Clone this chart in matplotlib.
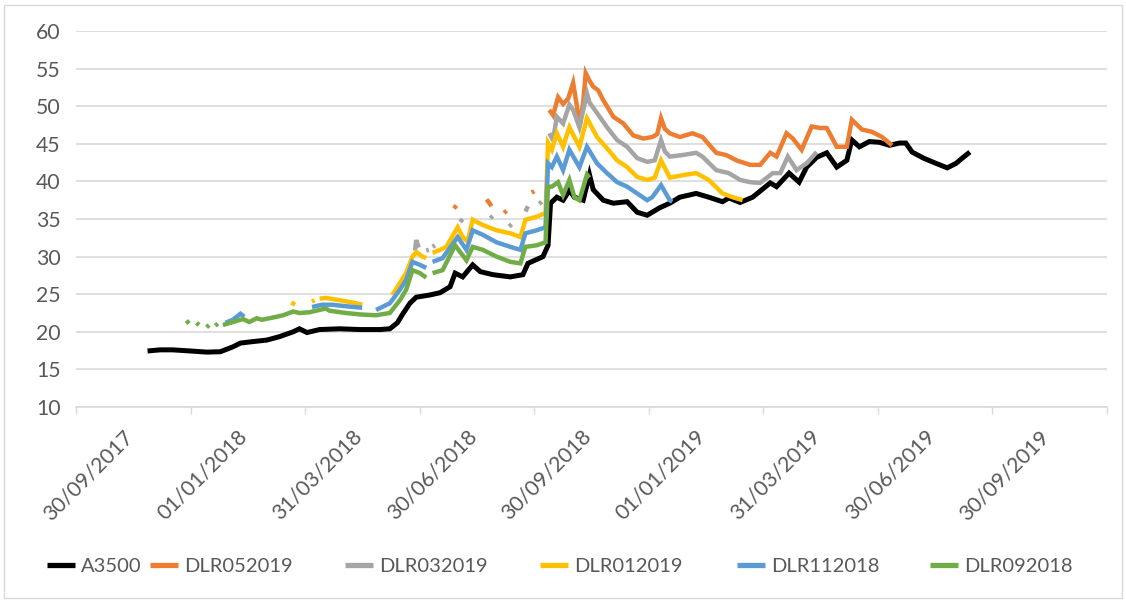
import matplotlib
matplotlib.use('Agg')
import matplotlib.pyplot as plt
import numpy as np
import pandas as pd
from matplotlib.lines import Line2D
from matplotlib.patches import Rectangle

plt.rcParams['font.family'] = ['Lato', 'DejaVu Sans']

# ---------------- data ----------------
a3500_dates = ['2017-11-26','2017-12-06','2017-12-16','2017-12-30','2018-01-12','2018-01-23','2018-02-02','2018-02-08',
               '2018-02-18','2018-03-01','2018-03-11','2018-03-22','2018-03-27','2018-04-02','2018-04-12','2018-04-28',
               '2018-05-14','2018-05-30','2018-06-07','2018-06-13','2018-06-17','2018-06-23','2018-06-28','2018-07-09',
               '2018-07-17','2018-07-25','2018-07-29','2018-08-04','2018-08-12','2018-08-18','2018-08-28','2018-09-11',
               '2018-09-21','2018-09-25','2018-10-07','2018-10-11','2018-10-13','2018-10-18','2018-10-23','2018-10-28',
               '2018-11-01','2018-11-08','2018-11-13','2018-11-16','2018-11-24','2018-12-02','2018-12-13','2018-12-21',
               '2018-12-29','2019-01-08','2019-01-16','2019-01-24','2019-02-06','2019-02-16','2019-02-27','2019-03-04',
               '2019-03-13','2019-03-23','2019-04-06','2019-04-11','2019-04-21','2019-04-29','2019-05-05','2019-05-13',
               '2019-05-21','2019-05-29','2019-06-06','2019-06-10','2019-06-16','2019-06-24','2019-07-02','2019-07-10',
               '2019-07-18','2019-07-23','2019-07-28','2019-08-06','2019-08-16','2019-08-25','2019-09-01','2019-09-06',
               '2019-09-12']
a3500_vals = [17.45,17.6,17.6,17.45,17.3,17.35,18.0,18.5,
              18.7,18.9,19.35,20.0,20.4,19.9,20.3,20.4,
              20.3,20.3,20.4,21.2,22.3,23.8,24.6,24.9,
              25.2,26.0,27.8,27.3,28.9,28.0,27.6,27.3,
              27.6,29.1,30.0,31.5,37.1,37.9,37.5,38.8,
              37.9,37.5,40.9,38.9,37.5,37.1,37.3,35.9,
              35.5,36.5,37.1,37.9,38.4,37.9,37.3,37.8,
              37.2,37.9,39.8,39.3,41.1,39.9,41.9,43.2,
              43.8,41.9,42.8,45.5,44.6,45.3,45.2,44.8,
              45.1,45.1,43.9,43.1,42.4,41.8,42.4,43.1,
              43.9]

dlr052019_dates = ['2018-07-28','2018-07-30','2018-08-10','2018-08-23','2018-08-25','2018-08-27','2018-09-01',
                   '2018-09-06','2018-09-08','2018-09-15','2018-09-28','2018-09-30','2018-10-05',
                   '2018-10-12','2018-10-15','2018-10-19','2018-10-23','2018-10-27','2018-10-31','2018-11-03',
                   '2018-11-05','2018-11-08','2018-11-10','2018-11-13','2018-11-16','2018-11-20','2018-11-24',
                   '2018-12-02','2018-12-10','2018-12-18','2018-12-26','2019-01-02','2019-01-06','2019-01-09',
                   '2019-01-12','2019-01-16','2019-01-24','2019-02-03','2019-02-11','2019-02-22','2019-03-02',
                   '2019-03-10','2019-03-21','2019-03-29','2019-04-06','2019-04-11','2019-04-19','2019-04-24',
                   '2019-05-01','2019-05-09','2019-05-16','2019-05-21','2019-05-29','2019-06-06','2019-06-10',
                   '2019-06-18','2019-06-26','2019-07-04','2019-07-12']
dlr052019_vals = [36.4,36.8,None,37.6,37.2,36.7,None,
                  35.8,36.1,None,38.5,38.7,None,
                  49.5,48.8,51.2,50.3,51.0,53.1,50.0,
                  47.2,50.5,54.4,53.4,52.6,52.1,50.8,
                  48.6,47.7,46.1,45.7,45.9,46.3,48.4,
                  47.0,46.4,45.9,46.4,45.9,43.8,43.5,
                  42.8,42.2,42.2,43.8,43.3,46.4,45.7,
                  44.2,47.3,47.1,47.1,44.6,44.6,48.2,
                  46.9,46.6,45.9,44.8]

dlr032019_dates = ['2018-06-27','2018-06-28','2018-06-30','2018-07-03','2018-07-06','2018-07-08','2018-07-10',
                   '2018-07-11','2018-07-13','2018-07-25','2018-08-02','2018-08-04','2018-08-15','2018-08-26',
                   '2018-08-28','2018-09-03','2018-09-10','2018-09-12','2018-09-18','2018-09-23','2018-09-25',
                   '2018-09-30','2018-10-04','2018-10-06','2018-10-09',
                   '2018-10-12','2018-10-15','2018-10-18','2018-10-23','2018-10-28','2018-10-31','2018-11-05',
                   '2018-11-11','2018-11-13','2018-11-19','2018-11-27','2018-12-05','2018-12-13','2018-12-21',
                   '2018-12-29','2019-01-04','2019-01-09','2019-01-12','2019-01-16','2019-01-26','2019-02-06',
                   '2019-02-11','2019-02-22','2019-03-04','2019-03-13','2019-03-21','2019-03-29','2019-04-08',
                   '2019-04-14','2019-04-20','2019-04-27','2019-05-05','2019-05-13']
dlr032019_vals = [30.8,32.2,31.2,None,30.8,30.9,None,
                  31.3,31.5,None,34.6,35.0,None,35.1,
                  35.4,None,34.0,34.3,None,36.0,36.7,
                  None,37.0,37.3,None,
                  46.4,45.5,48.6,47.7,50.2,49.5,47.2,
                  51.7,50.5,49.1,47.2,45.5,44.6,43.1,
                  42.6,42.8,45.5,44.0,43.3,43.5,43.8,
                  43.3,41.5,41.1,40.2,39.9,39.8,41.1,
                  41.1,43.3,41.5,42.4,43.9]

dlr012019_dates = ['2018-03-21','2018-03-23','2018-03-30','2018-04-06','2018-04-08','2018-04-10','2018-04-12',
                   '2018-04-17','2018-04-28','2018-05-11','2018-05-16','2018-06-01','2018-06-09','2018-06-15',
                   '2018-06-20','2018-06-25','2018-06-28','2018-07-03','2018-07-06','2018-07-08','2018-07-11',
                   '2018-07-17','2018-07-22','2018-07-31','2018-08-04','2018-08-08','2018-08-12','2018-08-20',
                   '2018-08-31','2018-09-11','2018-09-19','2018-09-23','2018-10-02','2018-10-09','2018-10-11',
                   '2018-10-14','2018-10-18','2018-10-23','2018-10-28','2018-11-05','2018-11-11','2018-11-19',
                   '2018-11-27','2018-12-05','2018-12-13','2018-12-21','2018-12-29','2019-01-04','2019-01-09',
                   '2019-01-16','2019-01-29','2019-02-06','2019-02-16','2019-02-27','2019-03-07','2019-03-15']
dlr012019_vals = [23.5,24.0,None,24.0,24.2,None,24.4,
                  24.5,24.2,23.8,23.6,None,24.9,26.5,
                  27.8,30.0,30.6,30.0,29.8,None,30.5,
                  30.9,31.3,33.9,32.6,32.0,34.9,34.2,
                  33.5,33.1,32.6,34.9,35.3,35.8,45.1,
                  44.2,46.4,44.6,47.2,44.6,48.4,45.9,
                  44.4,42.8,41.9,40.6,40.2,40.5,42.8,
                  40.5,40.9,41.1,40.2,38.4,37.9,37.5]

dlr112018_dates = ['2018-01-27','2018-02-02','2018-02-08','2018-02-11','2018-03-01','2018-04-06','2018-04-14',
                   '2018-04-22','2018-05-03','2018-05-16','2018-05-20','2018-05-27','2018-06-07','2018-06-15',
                   '2018-06-20','2018-06-25','2018-07-01','2018-07-06','2018-07-08','2018-07-11','2018-07-19',
                   '2018-07-31','2018-08-07','2018-08-12','2018-08-20','2018-08-31','2018-09-11','2018-09-19',
                   '2018-09-23','2018-10-02','2018-10-09','2018-10-11','2018-10-14','2018-10-18','2018-10-23',
                   '2018-10-28','2018-11-05','2018-11-11','2018-11-19','2018-11-27','2018-12-05','2018-12-13',
                   '2018-12-21','2018-12-29','2019-01-02','2019-01-09','2019-01-16','2019-01-18']
dlr112018_vals = [21.2,21.6,22.4,22.0,None,23.3,23.6,
                  23.6,23.4,23.2,None,22.9,23.8,25.6,
                  26.9,29.3,28.9,28.5,None,29.3,29.8,
                  32.6,30.9,33.5,32.9,31.9,31.3,30.9,
                  33.1,33.5,33.9,42.4,41.9,43.3,41.5,
                  44.2,41.9,44.6,42.4,41.1,39.9,39.3,
                  38.4,37.5,37.9,39.5,37.5,37.3]

dlr092018_dates = ['2017-12-27','2017-12-29','2018-01-01','2018-01-04','2018-01-06','2018-01-09','2018-01-12',
                   '2018-01-14','2018-01-16','2018-01-19','2018-01-21','2018-01-23','2018-01-25','2018-02-02',
                   '2018-02-10','2018-02-15','2018-02-21','2018-02-25','2018-03-06','2018-03-14','2018-03-22',
                   '2018-03-27','2018-04-04','2018-04-17','2018-04-20','2018-05-03','2018-05-15','2018-05-27',
                   '2018-06-07','2018-06-15','2018-06-20','2018-06-25','2018-07-01','2018-07-06','2018-07-08',
                   '2018-07-11','2018-07-19','2018-07-29','2018-08-07','2018-08-12','2018-08-20','2018-08-31',
                   '2018-09-11','2018-09-19','2018-09-23','2018-10-02','2018-10-09','2018-10-11','2018-10-14',
                   '2018-10-19','2018-10-23','2018-10-28','2018-11-01','2018-11-05','2018-11-11','2018-11-13']
dlr092018_vals = [21.5,21.1,None,21.2,20.9,None,20.6,
                  20.9,None,20.8,21.1,None,20.9,21.3,
                  21.7,21.3,21.8,21.6,21.9,22.2,22.7,
                  22.5,22.6,23.1,22.8,22.5,22.3,22.2,
                  22.5,24.2,25.6,28.2,27.8,27.2,None,
                  27.8,28.2,31.5,29.5,31.3,30.9,30.0,
                  29.3,29.1,31.3,31.5,31.9,39.3,39.3,
                  39.9,38.2,40.2,37.9,37.5,40.9,40.5]

series_names = ['A3500', 'DLR052019', 'DLR032019', 'DLR012019', 'DLR112018', 'DLR092018']
series_dates = [a3500_dates, dlr052019_dates, dlr032019_dates, dlr012019_dates, dlr112018_dates, dlr092018_dates]
series_vals = [a3500_vals, dlr052019_vals, dlr032019_vals, dlr012019_vals, dlr112018_vals, dlr092018_vals]

x_tick_labels = ['30/09/2017', '01/01/2018', '31/03/2018', '30/06/2018', '30/09/2018',
                 '01/01/2019', '31/03/2019', '30/06/2019', '30/09/2019']
y_ticks = [10, 15, 20, 25, 30, 35, 40, 45, 50, 55, 60]

# ---------------- styling ----------------
colors = ['#000000', '#ED7D31', '#A5A5A5', '#FFC000', '#5B9BD5', '#70AD47']
lws = [3.6, 3.2, 3.2, 3.2, 3.2, 3.2]
txt_color = '#595959'
grid_color = '#D9D9D9'
fs = 15.3
fs_leg = 14.5

W, H = 1126, 601
fig = plt.figure(figsize=(W / 100, H / 100), dpi=100)
fig.patch.set_facecolor('white')
ax = fig.add_axes([76 / W, 1 - 407 / H, (1107 - 76) / W, (407 - 31) / H])

for name, d, v, c, lw in zip(series_names, series_dates, series_vals, colors, lws):
    ax.plot(pd.to_datetime(d), np.array([np.nan if x is None else x for x in v], dtype=float),
            color=c, lw=lw, label=name, solid_joinstyle='miter', solid_capstyle='butt', zorder=3)

start = pd.Timestamp('2017-09-30')
n_ticks = len(x_tick_labels) + 1
xticks = [start + pd.Timedelta(days=91.25 * k) for k in range(n_ticks)]
label_pos = [t + pd.Timedelta(days=9.6) for t in xticks[:-1]]
ax.set_xlim(xticks[0], xticks[-1])
ax.set_xticks(xticks)
ax.set_xticklabels([''] * n_ticks)
ax.set_xticks(label_pos, minor=True)
ax.set_xticklabels(x_tick_labels, minor=True, rotation=45, ha='center', va='top',
                   color=txt_color, fontsize=fs)
ax.tick_params(axis='x', which='major', length=5, width=1, color=grid_color)
ax.tick_params(axis='x', which='minor', length=0, pad=14)

ax.set_ylim(10, 60)
ax.set_yticks(y_ticks)
ax.set_yticklabels([str(t) for t in y_ticks], color=txt_color, fontsize=fs)
ax.tick_params(axis='y', length=0, pad=11)
ax.grid(axis='y', color=grid_color, lw=1.2)
ax.set_axisbelow(True)
for s in ['left', 'right', 'top']:
    ax.spines[s].set_visible(False)
ax.spines['bottom'].set_color(grid_color)
ax.spines['bottom'].set_linewidth(1.2)

# legend, one entry at a time at the reference's positions
leg_x = [47, 150, 345, 540, 737, 930]
for name, c, lx in zip(series_names, colors, leg_x):
    h = Line2D([], [], color=c, lw=3.8, solid_capstyle='butt')
    lg = fig.legend(handles=[h], labels=[name], loc='center left',
                    bbox_to_anchor=(lx / W, 1 - 566 / H), frameon=False,
                    borderpad=0, borderaxespad=0, handlelength=1.38, handletextpad=0.3,
                    fontsize=fs_leg)
    for t in lg.get_texts():
        t.set_color(txt_color)

fig.add_artist(Rectangle((4 / W, 3 / H), (1122 - 4) / W, (596 - 3) / H, transform=fig.transFigure,
                         fill=False, edgecolor=grid_color, lw=1))

fig.savefig('out.png', dpi=100, facecolor='white')
